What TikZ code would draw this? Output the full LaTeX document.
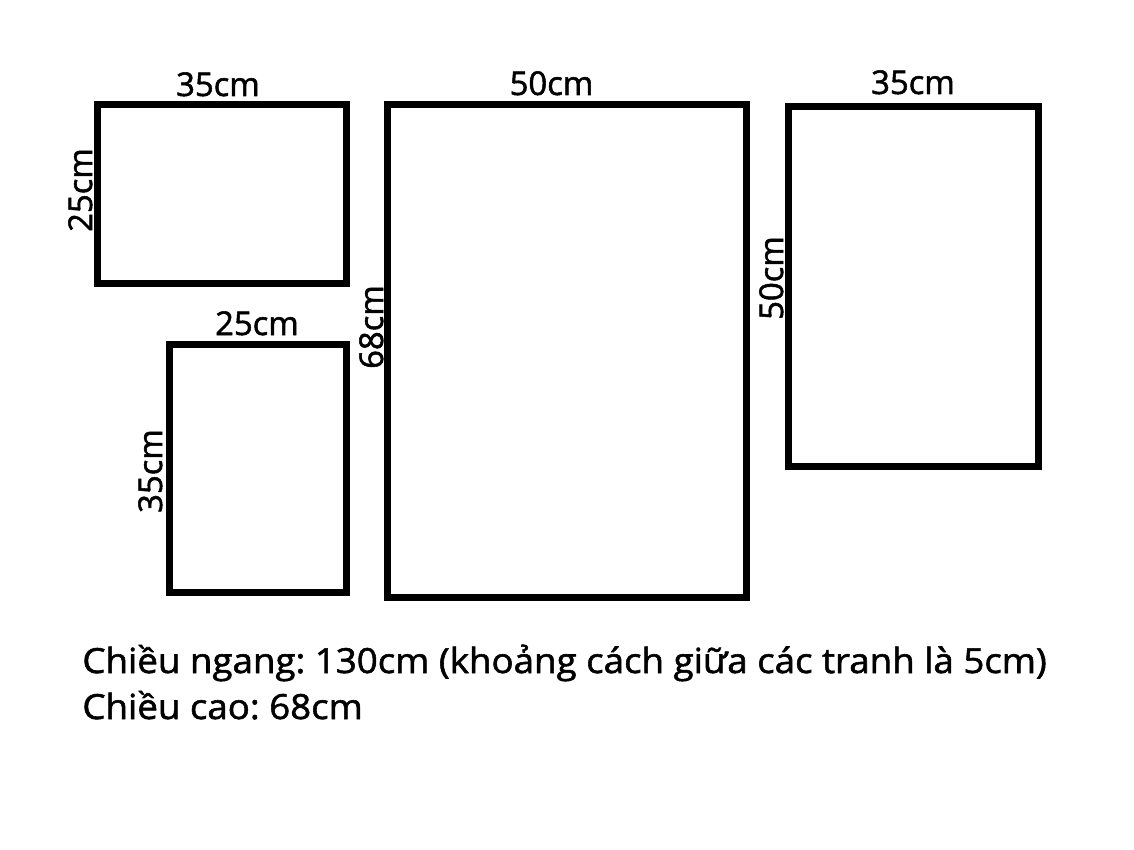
\documentclass[tikz,border=0pt]{standalone}
\usepackage{fontspec}
\setmainfont{Open Sans}
\newfontfamily\labelfont{Open Sans}[FakeBold=1.6]
\newfontfamily\notefont{Open Sans}[FakeBold=1.6, FakeStretch=1.06]
\usetikzlibrary{positioning}
\frenchspacing

\tikzset{
  frame/.style={draw=black, line width=3.5pt, rectangle, inner sep=0pt, outer sep=0pt},
  size/.style={font=\labelfont\fontsize{16.4}{19}\selectfont, inner sep=0pt, anchor=base},
  sizev/.style={size, rotate=90},
  note/.style={font=\notefont\fontsize{17.3}{20}\selectfont, inner sep=0pt, anchor=base west}
}

\begin{document}
\begin{tikzpicture}[x=0.5pt,y=-0.5pt]
%
\useasboundingbox (0,0) rectangle (1134,850);
%
\node[frame, minimum width=124.5pt, minimum height=89pt]  (f1) at (221.5,194) {};
\node[frame, minimum width=88.5pt,  minimum height=124pt] (f2) at (257.5,468) {};
\node[frame, minimum width=179.5pt, minimum height=246pt] (f3) at (566.5,351) {};
\node[frame, minimum width=125pt,   minimum height=179.5pt] (f4) at (913,286.5) {};
%
\node[size]  (w1) at (218,96)    {35cm};
\node[sizev] (h1) at (92,190)    {25cm};
\node[size]  (w2) at (257,335)   {25cm};
\node[sizev] (h2) at (162,471)   {35cm};
\node[size]  (w3) at (551.5,95)  {50cm};
\node[sizev] (h3) at (383,327)   {68cm};
\node[size]  (w4) at (913,94)    {35cm};
\node[sizev] (h4) at (783,278)   {50cm};
%
\node[note] (n1) at (82,673) {Chiều ngang: 130cm (khoảng cách giữa các tranh là 5cm)};
\node[note] (n2) at (82,719) {Chiều cao: 68cm};
%
\end{tikzpicture}
\end{document}
